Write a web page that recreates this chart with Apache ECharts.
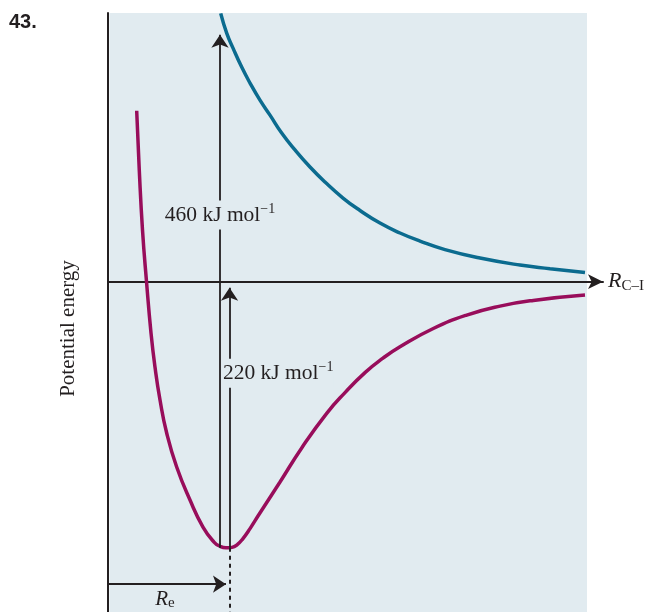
<!DOCTYPE html>
<html><head><meta charset="utf-8">
<script src="https://cdn.jsdelivr.net/npm/echarts@6/dist/echarts.min.js"></script>
<style>html,body{margin:0;padding:0;background:#fff}#c{width:647px;height:612px}</style>
</head><body><div id="c"></div>
<script>
// Axis extents (R in arbitrary units, energy in kJ/mol)
const xExtent = [0, 10.334];
const yExtent = [-273, 222];
const shadedX = [0.03, 10];

// Bound C–I state (Morse-like curve)
const boundCurve = [
  [0.599,141.2],[0.653,92.2],[0.720,42.8],[0.804,0],[0.898,-42.5],[0.981,-70.6],
  [1.086,-97.8],[1.225,-125.1],[1.434,-153.2],[1.712,-180.5],[1.983,-202.8],
  [2.213,-215.2],[2.338,-218.7],[2.463,-220],[2.589,-219.6],[2.693,-217.5],
  [2.818,-212.3],[2.965,-204.1],[3.138,-193.3],[3.591,-165.6],[4.044,-137.4],
  [4.566,-108.8],[4.948,-91.7],[5.365,-75.2],[5.741,-63.2],[6.096,-53.8],
  [6.791,-38.7],[7.489,-27.6],[8.184,-20.2],[8.879,-15.5],[9.958,-11.1]
];
// Repulsive excited state
const repulsiveCurve = [
  [2.353,221.7],[2.478,205.4],[2.610,193.0],[2.791,177.3],[2.965,164.1],[3.173,150.0],
  [3.382,137.6],[3.626,122.8],[3.904,108.8],[4.217,94.7],[4.530,82.3],[4.906,69.1],
  [5.261,58.8],[5.678,48.4],[6.096,40.2],[6.514,33.5],[7.035,26.5],[7.766,19.5],
  [8.601,13.7],[9.228,10.7],[9.958,7.5]
];
// Energy arrows and markers
const arrow460 = [[2.338,-220],[2.338,204]];
const arrow220 = [[2.537,-220],[2.537,-5]];
const reDrop = [[2.537,-220],[2.537,-273]];
const reArrow = [[0,-250],[2.463,-250]];
const label460 = [2.338, 55];
const label220 = [2.40, -75.6];
const labelRe = [1.19, -263];

const BG = '#e1ebf0', INK = '#231f20', SERIF = '"Liberation Serif","DejaVu Serif",serif';
const supRich = {
  a:{fontSize:21.5,fontFamily:SERIF,color:INK,lineHeight:25},
  s:{fontSize:14,fontFamily:SERIF,color:INK,verticalAlign:'top',lineHeight:14}
};

const chart = echarts.init(document.getElementById('c'));
chart.setOption({
  animation:false,
  title:{text:'43.',left:9,top:12,padding:0,textStyle:{fontFamily:'"Liberation Sans",Arial,sans-serif',fontWeight:'bold',fontSize:20,color:INK}},
  grid:{left:108,right:44,top:13,bottom:0,containLabel:false},
  xAxis:{type:'value',min:xExtent[0],max:xExtent[1],z:2,
    axisLine:{onZero:true,symbol:['none','arrow'],symbolSize:[11,15],lineStyle:{color:INK,width:2}},
    axisTick:{show:false},axisLabel:{show:false},splitLine:{show:false},
    name:'{r|R}{s|C–I}',nameLocation:'end',nameGap:5,
    nameTextStyle:{rich:{r:{fontSize:22,fontStyle:'italic',fontFamily:SERIF,color:INK,lineHeight:24},
                         s:{fontSize:15,fontFamily:SERIF,color:INK,verticalAlign:'bottom',lineHeight:18}}}},
  yAxis:{type:'value',min:yExtent[0],max:yExtent[1],z:2,
    axisLine:{onZero:false,lineStyle:{color:INK,width:2}},
    axisTick:{show:false},axisLabel:{show:false},splitLine:{show:false},
    name:'Potential energy',nameLocation:'middle',nameRotate:90,nameGap:29,
    nameTextStyle:{fontSize:21,fontFamily:SERIF,color:INK,padding:[0,32,0,0]}},
  series:[
    {type:'line',data:[],z:1,silent:true,
      markArea:{silent:true,itemStyle:{color:BG},data:[[{coord:[shadedX[0],yExtent[0]]},{coord:[shadedX[1],yExtent[1]]}]]}},
    {type:'line',data:boundCurve,smooth:0.5,symbol:'none',z:3,silent:true,lineStyle:{color:'#980d5b',width:3.5}},
    {type:'line',data:repulsiveCurve,smooth:0.5,symbol:'none',z:3,silent:true,lineStyle:{color:'#0b6b8f',width:3.5}},
    {type:'line',data:[],z:4,silent:true,
      markLine:{silent:true,symbol:['none','arrow'],symbolSize:13,label:{show:false},
        lineStyle:{color:INK,width:1.8,type:'solid'},
        data:[
          [{coord:arrow460[0]},{coord:arrow460[1]}],
          [{coord:arrow220[0]},{coord:arrow220[1]}],
          [{coord:reArrow[0]},{coord:reArrow[1]}],
          [{coord:reDrop[0],symbol:'none'},{coord:reDrop[1],symbol:'none',lineStyle:{type:[4,4],width:2}}]
        ]}},
    {type:'scatter',z:6,silent:true,symbolSize:0,clip:false,itemStyle:{opacity:1},
      data:[
        {value:label460,label:{show:true,opacity:1,position:'inside',align:'center',formatter:'{a|460 kJ mol}{s|−1}',rich:supRich,backgroundColor:BG,padding:[2,3]}},
        {value:label220,label:{show:true,opacity:1,position:'inside',align:'left',formatter:'{a|220 kJ mol}{s|−1}',rich:supRich,backgroundColor:BG,padding:[2,0]}},
        {value:labelRe,label:{show:true,opacity:1,position:'inside',align:'center',formatter:'{r|R}{e|e}',
          rich:{r:{fontSize:21,fontStyle:'italic',fontFamily:SERIF,color:INK,lineHeight:22},
                e:{fontSize:15,fontFamily:SERIF,color:INK,verticalAlign:'bottom',lineHeight:16}}}}
      ]}
  ]
});
</script></body></html>
